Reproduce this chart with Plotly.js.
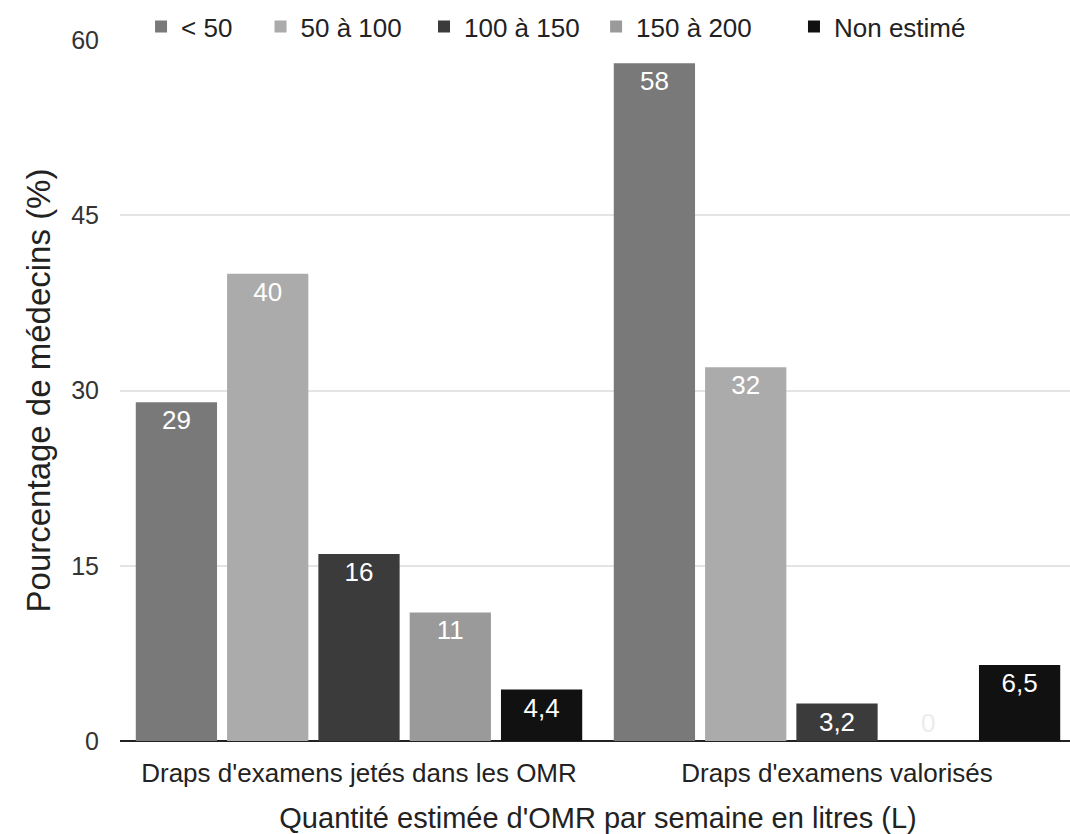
<!DOCTYPE html>
<html>
<head>
<meta charset="utf-8">
<script src="https://cdn.plot.ly/plotly-3.0.1.min.js"></script>
<style>
  html, body { margin: 0; padding: 0; background: #fff; overflow: hidden; }
  #chart { width: 1076px; height: 834px; }
</style>
</head>
<body>
<div id="chart"></div>
<script>
// Catégories d'usage des draps d'examen
const categories = ["Draps d'examens jetés dans les OMR", "Draps d'examens valorisés"];

// Tranches de volume hebdomadaire (L)
const seriesNames = ["< 50", "50 à 100", "100 à 150", "150 à 200", "Non estimé"];

// Pourcentage de médecins par tranche
const valsLt50 = [29, 58];
const vals50to100 = [40, 32];
const vals100to150 = [16, 3.2];
const vals150to200 = [11, 0];
const valsNonEstime = [4.4, 6.5];

const yTicks = [0, 15, 30, 45, 60];

const seriesValues = [valsLt50, vals50to100, vals100to150, vals150to200, valsNonEstime];
const seriesColors = ["#797979", "#ababab", "#3b3b3b", "#9a9a9a", "#111111"];

// Position horizontale (fraction du tracé) de chaque entrée de légende
const legendX = [0.022, 0.147, 0.318, 0.498, 0.705];

const FONT = "Liberation Sans, Arial, Helvetica, sans-serif";
const legendIds = seriesNames.map((_, i) => (i === 0 ? "legend" : "legend" + (i + 1)));

const traces = seriesNames.map((name, i) => {
  const vals = seriesValues[i];
  return {
    type: "bar",
    name: name,
    legend: legendIds[i],
    x: categories,
    y: vals,
    marker: { color: seriesColors[i] },
    texttemplate: "%{y}",
    textposition: vals.map(v => (v > 0 ? "inside" : "outside")),
    insidetextanchor: "end",
    insidetextfont: { family: FONT, size: 26, color: "#ffffff" },
    outsidetextfont: { family: FONT, size: 26, color: "#ececec" },
    textangle: 0,
    cliponaxis: false,
    constraintext: "none",
    hoverinfo: "skip"
  };
});

const layout = {
  width: 1076,
  height: 834,
  paper_bgcolor: "#ffffff",
  plot_bgcolor: "#ffffff",
  separators: ", ",
  font: { family: FONT, color: "#222" },
  margin: { l: 120, r: 0, t: 40, b: 93 },
  barmode: "group",
  bargap: 0.045,
  bargroupgap: 0.11,
  showlegend: true,
  xaxis: {
    type: "category",
    tickfont: { family: FONT, size: 26, color: "#222" },
    ticks: "",
    ticklabelstandoff: 14,
    showgrid: false,
    showline: false,
    zeroline: false,
    title: {
      text: "Quantité estimée d'OMR par semaine en litres (L)",
      font: { family: FONT, size: 29, color: "#222" },
      standoff: 22
    }
  },
  yaxis: {
    range: [0, 60],
    tickvals: yTicks,
    ticktext: yTicks.map(String),
    tickfont: { family: FONT, size: 25, color: "#333" },
    ticks: "",
    ticklabelstandoff: 20,
    showgrid: true,
    gridcolor: "#e4e4e4",
    gridwidth: 2,
    zeroline: true,
    zerolinecolor: "#222",
    zerolinewidth: 2,
    showline: false,
    title: {
      text: "Pourcentage de médecins (%)",
      font: { family: FONT, size: 33, color: "#222" },
      standoff: 10
    }
  }
};

// Une légende par série, placées côte à côte au-dessus du tracé
legendIds.forEach((id, i) => {
  layout[id] = {
    orientation: "h",
    x: legendX[i],
    xanchor: "left",
    y: 1.019,
    yanchor: "middle",
    font: { family: FONT, size: 26, color: "#222" },
    itemwidth: 30,
    bgcolor: "rgba(0,0,0,0)"
  };
});

Plotly.newPlot("chart", traces, layout, { displayModeBar: false, staticPlot: true });
</script>
</body>
</html>
